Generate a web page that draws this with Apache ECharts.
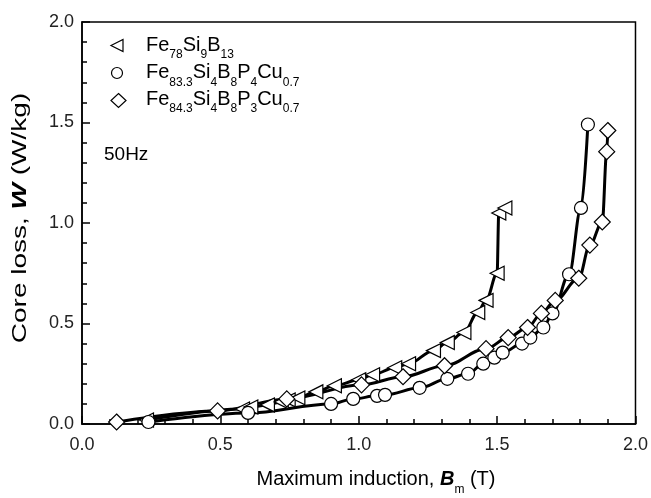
<!DOCTYPE html>
<html>
<head>
<meta charset="utf-8">
<script src="https://cdn.jsdelivr.net/npm/echarts@6/dist/echarts.min.js"></script>
<style>html,body{margin:0;padding:0;background:#fff;}#c{width:651px;height:498px;}</style>
</head>
<body>
<div id="c"></div>
<script>
// Fe78Si9B13 (left-pointing triangles)
const triX = [0.233, 0.58, 0.61, 0.67, 0.72, 0.745, 0.78, 0.845, 0.912, 1.0, 1.05, 1.13, 1.18, 1.27, 1.32, 1.38, 1.43, 1.46, 1.50, 1.506, 1.528];
const triY = [0.02, 0.075, 0.085, 0.095, 0.11, 0.12, 0.13, 0.16, 0.19, 0.22, 0.245, 0.28, 0.30, 0.365, 0.405, 0.455, 0.555, 0.615, 0.75, 1.05, 1.075];
// Fe83.3Si4B8P4Cu0.7 (circles)
const cirX = [0.24, 0.60, 0.90, 0.98, 1.066, 1.095, 1.22, 1.32, 1.395, 1.45, 1.49, 1.52, 1.59, 1.62, 1.667, 1.70, 1.76, 1.803, 1.828];
const cirY = [0.01, 0.055, 0.10, 0.125, 0.14, 0.145, 0.18, 0.225, 0.25, 0.30, 0.33, 0.355, 0.40, 0.43, 0.48, 0.55, 0.745, 1.075, 1.49];
// Fe84.3Si4B8P3Cu0.7 (diamonds)
const diaX = [0.125, 0.49, 0.74, 1.01, 1.16, 1.31, 1.46, 1.54, 1.61, 1.66, 1.71, 1.795, 1.835, 1.88, 1.896, 1.90];
const diaY = [0.01, 0.065, 0.125, 0.195, 0.235, 0.29, 0.375, 0.43, 0.48, 0.55, 0.615, 0.725, 0.89, 1.005, 1.355, 1.46];

const xTicks = [0, 0.5, 1.0, 1.5, 2.0];
const yTicks = [0, 0.5, 1.0, 1.5, 2.0];
const legendLabels = [
  'Fe{s|78}Si{s|9}B{s|13}',
  'Fe{s|83.3}Si{s|4}B{s|8}P{s|4}Cu{s|0.7}',
  'Fe{s|84.3}Si{s|4}B{s|8}P{s|3}Cu{s|0.7}'
];
const freqLabel = '50Hz';
const xTitle = 'Maximum induction, {b|B}{s|m} (T)';
const yTitle = 'Core loss, {b|W} (W/kg)';

const FONT = 'Liberation Sans, Arial, sans-serif';
function pairs(xs, ys) { return xs.map((x, i) => [x, ys[i]]); }

const chart = echarts.init(document.getElementById('c'), null, {renderer: 'canvas'});

const symStyle = {color: '#fff', borderColor: '#000', borderWidth: 1.2};
function series(name, xs, ys, symbol, size, rotate) {
  return {
    name: name, type: 'line', data: pairs(xs, ys),
    smooth: 0.35, smoothMonotone: 'x',
    symbol: symbol, symbolSize: size, symbolRotate: rotate || 0,
    showAllSymbol: true,
    lineStyle: {color: '#000', width: 3},
    itemStyle: symStyle,
    emphasis: {disabled: true},
    z: 3
  };
}

const subRich = {
  m: {fontSize: 20, fontFamily: FONT, color: '#000', lineHeight: 24, verticalAlign: 'top'},
  s: {fontSize: 12, fontFamily: FONT, color: '#000', lineHeight: 12, padding: [14, 0, 0, 0], verticalAlign: 'top'}
};
const titleRich = {
  m: {fontSize: 20, fontFamily: FONT, color: '#000', lineHeight: 24, verticalAlign: 'top'},
  b: {fontSize: 20, fontFamily: FONT, fontWeight: 'bold', fontStyle: 'italic', color: '#000', lineHeight: 24, verticalAlign: 'top'},
  s: {fontSize: 12, fontFamily: FONT, color: '#000', lineHeight: 12, padding: [15, 0, 0, 0], verticalAlign: 'top'}
};
function toRich(str) {
  const parts = [];
  const re = /\{([sb])\|([^}]*)\}/g;
  let last = 0, mm;
  while ((mm = re.exec(str)) !== null) {
    if (mm.index > last) parts.push('{m|' + str.slice(last, mm.index) + '}');
    parts.push('{' + mm[1] + '|' + mm[2] + '}');
    last = re.lastIndex;
  }
  if (last < str.length) parts.push('{m|' + str.slice(last) + '}');
  return parts.join('');
}

const rowTops = [35, 62.5, 89];
const graphics = [];
for (let i = 0; i < 3; i++) {
  graphics.push({
    type: 'text', left: 146, top: rowTops[i],
    style: {text: toRich(legendLabels[i]), rich: subRich}
  });
}
graphics.push({
  type: 'text', left: 104, top: 145,
  style: {text: freqLabel, fontSize: 19, fontFamily: FONT, fill: '#000'}
});
graphics.push({
  type: 'text', x: 376, y: 481,
  style: {text: toRich(xTitle), rich: titleRich, align: 'center', verticalAlign: 'middle'}
});
graphics.push({
  type: 'text', x: 22, y: 218, rotation: Math.PI / 2, scaleX: 1.4,
  style: {text: toRich(yTitle), rich: titleRich, align: 'center', verticalAlign: 'middle'}
});

chart.setOption({
  animation: false,
  backgroundColor: '#fff',
  grid: {left: 82, right: 10, top: 22, bottom: 74, show: true, borderColor: '#000', borderWidth: 1.5, backgroundColor: 'transparent'},
  xAxis: {
    type: 'value', min: 0, max: 2, interval: 0.5,
    axisLine: {show: true, lineStyle: {color: '#000', width: 1.5}},
    axisTick: {show: true, inside: true, length: 8, lineStyle: {color: '#000', width: 1.5}},
    minorTick: {show: true, splitNumber: 5, length: 5, lineStyle: {color: '#000', width: 1.5}},
    splitLine: {show: false},
    axisLabel: {color: '#222', fontSize: 18, fontFamily: FONT, margin: 12, formatter: v => v.toFixed(1), showMaxLabel: true}
  },
  yAxis: {
    type: 'value', min: 0, max: 2, interval: 0.5,
    axisLine: {show: true, lineStyle: {color: '#000', width: 1.5}},
    axisTick: {show: true, inside: true, length: 8, lineStyle: {color: '#000', width: 1.5}},
    minorTick: {show: true, splitNumber: 5, length: 5, lineStyle: {color: '#000', width: 1.5}},
    splitLine: {show: false},
    axisLabel: {color: '#222', fontSize: 18, fontFamily: FONT, margin: 8, formatter: v => v.toFixed(1)}
  },
  series: [
    series('tri', triX, triY, 'triangle', 14, 90),
    series('cir', cirX, cirY, 'circle', 13, 0),
    series('dia', diaX, diaY, 'diamond', 16, 0)
  ],
  graphic: graphics.concat([
    {type: 'polygon', shape: {points: [[111, 45.5], [123, 39.5], [123, 51.5]]}, style: {fill: '#fff', stroke: '#000', lineWidth: 1.2}},
    {type: 'circle', shape: {cx: 117, cy: 73, r: 5.5}, style: {fill: '#fff', stroke: '#000', lineWidth: 1.2}},
    {type: 'polygon', shape: {points: [[118.5, 93.5], [126, 100.5], [118.5, 107.5], [111, 100.5]]}, style: {fill: '#fff', stroke: '#000', lineWidth: 1.2}}
  ])
});
</script>
</body>
</html>
